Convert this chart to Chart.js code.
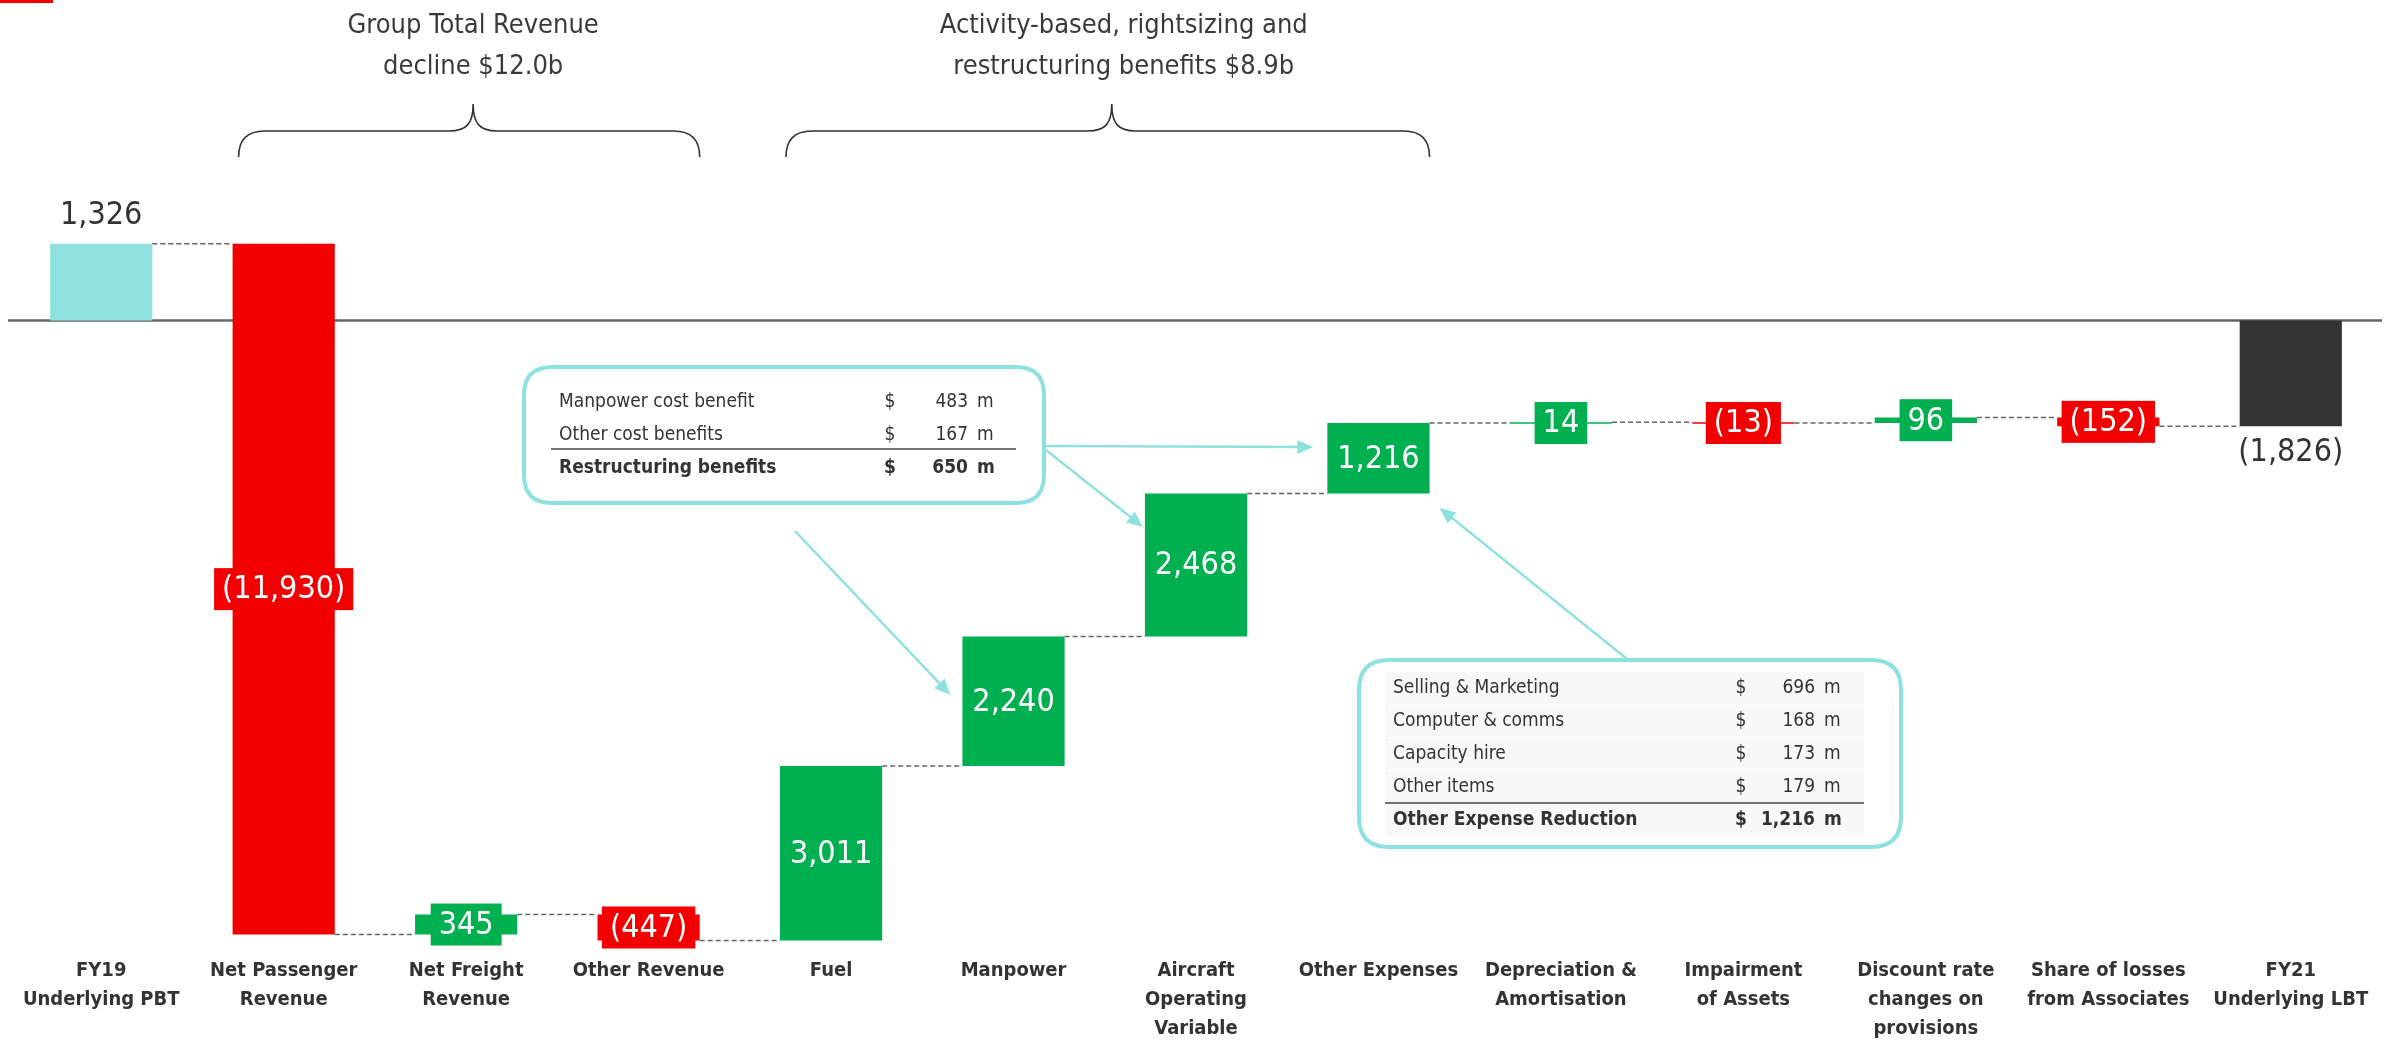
<!DOCTYPE html>
<html><head><meta charset="utf-8">
<script src="https://cdn.jsdelivr.net/npm/chart.js@4.4.0/dist/chart.umd.min.js"></script>
<style>html,body{margin:0;padding:0;background:#fff;}canvas{display:block;}</style>
</head><body>
<canvas id="c" width="2394" height="1041"></canvas>
<script>
const FONT = '"DejaVu Sans Condensed", "Liberation Sans Narrow", "DejaVu Sans", sans-serif';

const categories = [
  ["FY19","Underlying PBT"],["Net Passenger","Revenue"],["Net Freight","Revenue"],["Other Revenue"],
  ["Fuel"],["Manpower"],["Aircraft","Operating","Variable"],["Other Expenses"],
  ["Depreciation &","Amortisation"],["Impairment","of Assets"],["Discount rate","changes on","provisions"],
  ["Share of losses","from Associates"],["FY21","Underlying LBT"]
];
const changes = [1326, -11930, 345, -447, 3011, 2240, 2468, 1216, 14, -13, 96, -152, -1826];
const barKinds = ["start","delta","delta","delta","delta","delta","delta","delta","delta","delta","delta","delta","end"];
const valueLabels = ["1,326","(11,930)","345","(447)","3,011","2,240","2,468","1,216","14","(13)","96","(152)","(1,826)"];

const groupTitles = [["Group Total Revenue","decline $12.0b"],["Activity-based, rightsizing and","restructuring benefits $8.9b"]];
const groupSpans = [[1,3],[4,7]];

const restructLabels = ["Manpower cost benefit","Other cost benefits","Restructuring benefits"];
const restructValues = ["483","167","650"];
const otherExpLabels = ["Selling & Marketing","Computer & comms","Capacity hire","Other items","Other Expense Reduction"];
const otherExpValues = ["696","168","173","179","1,216"];

const COL_START = '#8FE1E0', COL_END = '#333333', COL_UP = '#00B050', COL_DOWN = '#F20000', TEAL = '#8FE1E0', TXT = '#333333';

// floating ranges built from the changes
const ranges = []; let run = 0;
changes.forEach((v, i) => {
  if (barKinds[i] === 'delta') { ranges.push([run, run + v]); run += v; }
  else { ranges.push([0, v]); run = v; }
});
const colors = changes.map((v, i) => barKinds[i] === 'start' ? COL_START : barKinds[i] === 'end' ? COL_END : (v >= 0 ? COL_UP : COL_DOWN));

function roundRect(ctx, x, y, w, h, r) {
  ctx.beginPath();
  ctx.moveTo(x + r, y); ctx.lineTo(x + w - r, y); ctx.quadraticCurveTo(x + w, y, x + w, y + r);
  ctx.lineTo(x + w, y + h - r); ctx.quadraticCurveTo(x + w, y + h, x + w - r, y + h);
  ctx.lineTo(x + r, y + h); ctx.quadraticCurveTo(x, y + h, x, y + h - r);
  ctx.lineTo(x, y + r); ctx.quadraticCurveTo(x, y, x + r, y); ctx.closePath();
}
function arrow(ctx, x1, y1, x2, y2) {
  const a = Math.atan2(y2 - y1, x2 - x1), L = 16, W = 7;
  ctx.save(); ctx.strokeStyle = TEAL; ctx.fillStyle = TEAL; ctx.lineWidth = 2.5;
  ctx.beginPath(); ctx.moveTo(x1, y1); ctx.lineTo(x2 - Math.cos(a) * L * 0.8, y2 - Math.sin(a) * L * 0.8); ctx.stroke();
  ctx.beginPath(); ctx.moveTo(x2, y2);
  ctx.lineTo(x2 - L * Math.cos(a) + W * Math.sin(a), y2 - L * Math.sin(a) - W * Math.cos(a));
  ctx.lineTo(x2 - L * Math.cos(a) - W * Math.sin(a), y2 - L * Math.sin(a) + W * Math.cos(a));
  ctx.closePath(); ctx.fill(); ctx.restore();
}
function brace(ctx, x1, x2, xt, yEnd, yMid, yTip) {
  const r = yEnd - yMid;
  ctx.save(); ctx.strokeStyle = '#333'; ctx.lineWidth = 1.6; ctx.beginPath();
  ctx.moveTo(x1, yEnd); ctx.quadraticCurveTo(x1, yMid, x1 + r, yMid);
  ctx.lineTo(xt - 24, yMid); ctx.bezierCurveTo(xt - 6, yMid, xt, yMid - 8, xt, yTip);
  ctx.bezierCurveTo(xt, yMid - 8, xt + 6, yMid, xt + 24, yMid);
  ctx.lineTo(x2 - r, yMid); ctx.quadraticCurveTo(x2, yMid, x2, yEnd);
  ctx.stroke(); ctx.restore();
}
function table(ctx, box, labels, values, opt) {
  ctx.save();
  ctx.strokeStyle = TEAL; ctx.lineWidth = 4; ctx.fillStyle = '#fff';
  roundRect(ctx, box.x, box.y, box.w, box.h, opt.radius); ctx.fill(); ctx.stroke();
  labels.forEach((lab, i) => {
    const y = opt.rowY[i];
    if (opt.rowBg) { ctx.fillStyle = '#F8F8F8'; ctx.fillRect(opt.sepX[0], y - 16, opt.sepX[1] - opt.sepX[0], 32); }
    const bold = i === labels.length - 1;
    ctx.font = (bold ? 'bold ' : '') + '19px ' + FONT;
    ctx.fillStyle = TXT; ctx.textBaseline = 'middle';
    ctx.textAlign = 'left'; ctx.fillText(lab, opt.labelX, y);
    ctx.textAlign = 'center'; ctx.fillText('$', opt.dollarX, y);
    ctx.textAlign = 'right'; ctx.fillText(values[i], opt.numRight, y);
    ctx.textAlign = 'left'; ctx.fillText('m', opt.numRight + 9, y);
  });
  ctx.strokeStyle = '#444'; ctx.lineWidth = 1.5; ctx.beginPath();
  ctx.moveTo(opt.sepX[0], opt.sepY); ctx.lineTo(opt.sepX[1], opt.sepY); ctx.stroke();
  ctx.restore();
}

const waterfallPlugin = {
  id: 'waterfall',
  beforeDatasetsDraw(chart) {
    const {ctx, chartArea, scales: {y}} = chart;
    const y0 = y.getPixelForValue(0);
    ctx.save(); ctx.strokeStyle = '#666'; ctx.lineWidth = 2.5;
    ctx.beginPath(); ctx.moveTo(chartArea.left - 2, y0); ctx.lineTo(chartArea.right, y0); ctx.stroke(); ctx.restore();
  },
  afterDatasetsDraw(chart) {
    const {ctx, scales: {x, y}} = chart;
    const bars = chart.getDatasetMeta(0).data;
    // connectors
    ctx.save(); ctx.strokeStyle = '#666'; ctx.lineWidth = 1.5; ctx.setLineDash([5, 3]);
    for (let i = 0; i < bars.length - 1; i++) {
      const lvl = y.getPixelForValue(ranges[i][1]);
      ctx.beginPath(); ctx.moveTo(bars[i].x + bars[i].width / 2, lvl); ctx.lineTo(bars[i + 1].x - bars[i + 1].width / 2, lvl); ctx.stroke();
    }
    ctx.restore();
    // value labels
    ctx.save(); ctx.textAlign = 'center'; ctx.textBaseline = 'middle';
    bars.forEach((b, i) => {
      ctx.font = '32px ' + FONT;
      if (barKinds[i] === 'start') { ctx.fillStyle = TXT; ctx.fillText(valueLabels[i], b.x, Math.min(b.y, b.base) - 28); return; }
      if (barKinds[i] === 'end') { ctx.fillStyle = TXT; ctx.fillText(valueLabels[i], b.x, Math.max(b.y, b.base) + 26); return; }
      const cy = (b.y + b.base) / 2, w = ctx.measureText(valueLabels[i]).width + 16, h = 42;
      ctx.fillStyle = colors[i]; ctx.fillRect(b.x - w / 2, cy - h / 2, w, h);
      ctx.fillStyle = '#fff'; ctx.fillText(valueLabels[i], b.x, cy + 1);
    });
    ctx.restore();
    // braces and titles
    groupSpans.forEach((s, g) => {
      const bw = bars[s[0]].width;
      const x1 = x.getPixelForValue(s[0]) - bw / 2 + 6, x2 = x.getPixelForValue(s[1]) + bw / 2;
      const xt = (x1 + x2) / 2 + 4;
      brace(ctx, x1, x2, xt, 157, 131, 104);
      ctx.save(); ctx.fillStyle = '#3a3a3a'; ctx.font = '27px ' + FONT; ctx.textAlign = 'center'; ctx.textBaseline = 'middle';
      ctx.fillText(groupTitles[g][0], xt + g * 12, 26); ctx.fillText(groupTitles[g][1], xt + g * 12, 67); ctx.restore();
    });
    // callout tables
    table(ctx, {x: 524, y: 367, w: 520, h: 136}, restructLabels, restructValues,
      {radius: 28, rowY: [402, 435, 468], sepY: 449, sepX: [551, 1016], labelX: 559, dollarX: 890, numRight: 968, rowBg: false});
    table(ctx, {x: 1359, y: 660, w: 542, h: 187}, otherExpLabels, otherExpValues,
      {radius: 30, rowY: [688, 721, 754, 787, 820], sepY: 803, sepX: [1385, 1864], labelX: 1393, dollarX: 1741, numRight: 1815, rowBg: true});
    // arrows
    const bMan = bars[5], bAir = bars[6], bOth = bars[7];
    arrow(ctx, 1045, 446, bOth.x - bOth.width / 2 - 14, 447);
    arrow(ctx, 1046, 450, bAir.x - bAir.width / 2 - 2, 527);
    arrow(ctx, 795, 531, bMan.x - bMan.width / 2 - 12, 695);
    arrow(ctx, 1627, 659, bOth.x + bOth.width / 2 + 10, 508);
    // corner mark
    ctx.save(); ctx.fillStyle = '#F20000'; ctx.fillRect(0, 0, 53, 3); ctx.restore();
  }
};

new Chart(document.getElementById('c'), {
  type: 'bar',
  data: { labels: categories, datasets: [{ data: ranges, backgroundColor: colors, borderWidth: 0, barPercentage: 0.56, categoryPercentage: 1, minBarLength: 1.5 }] },
  options: {
    responsive: false, animation: false,
    layout: { padding: { left: 10, right: 12, top: 0, bottom: 0 } },
    plugins: { legend: { display: false }, tooltip: { enabled: false } },
    scales: {
      x: { grid: { display: false, drawTicks: false }, border: { display: false },
           ticks: { autoSkip: false, maxRotation: 0, padding: 3, color: TXT, font: { family: FONT, size: 20, weight: 'bold', lineHeight: 1.45 } },
           afterFit(s) { s.height = 88; } },
      y: { display: false, min: -10923, max: 5535 }
    }
  },
  plugins: [waterfallPlugin]
});
</script>
</body></html>
